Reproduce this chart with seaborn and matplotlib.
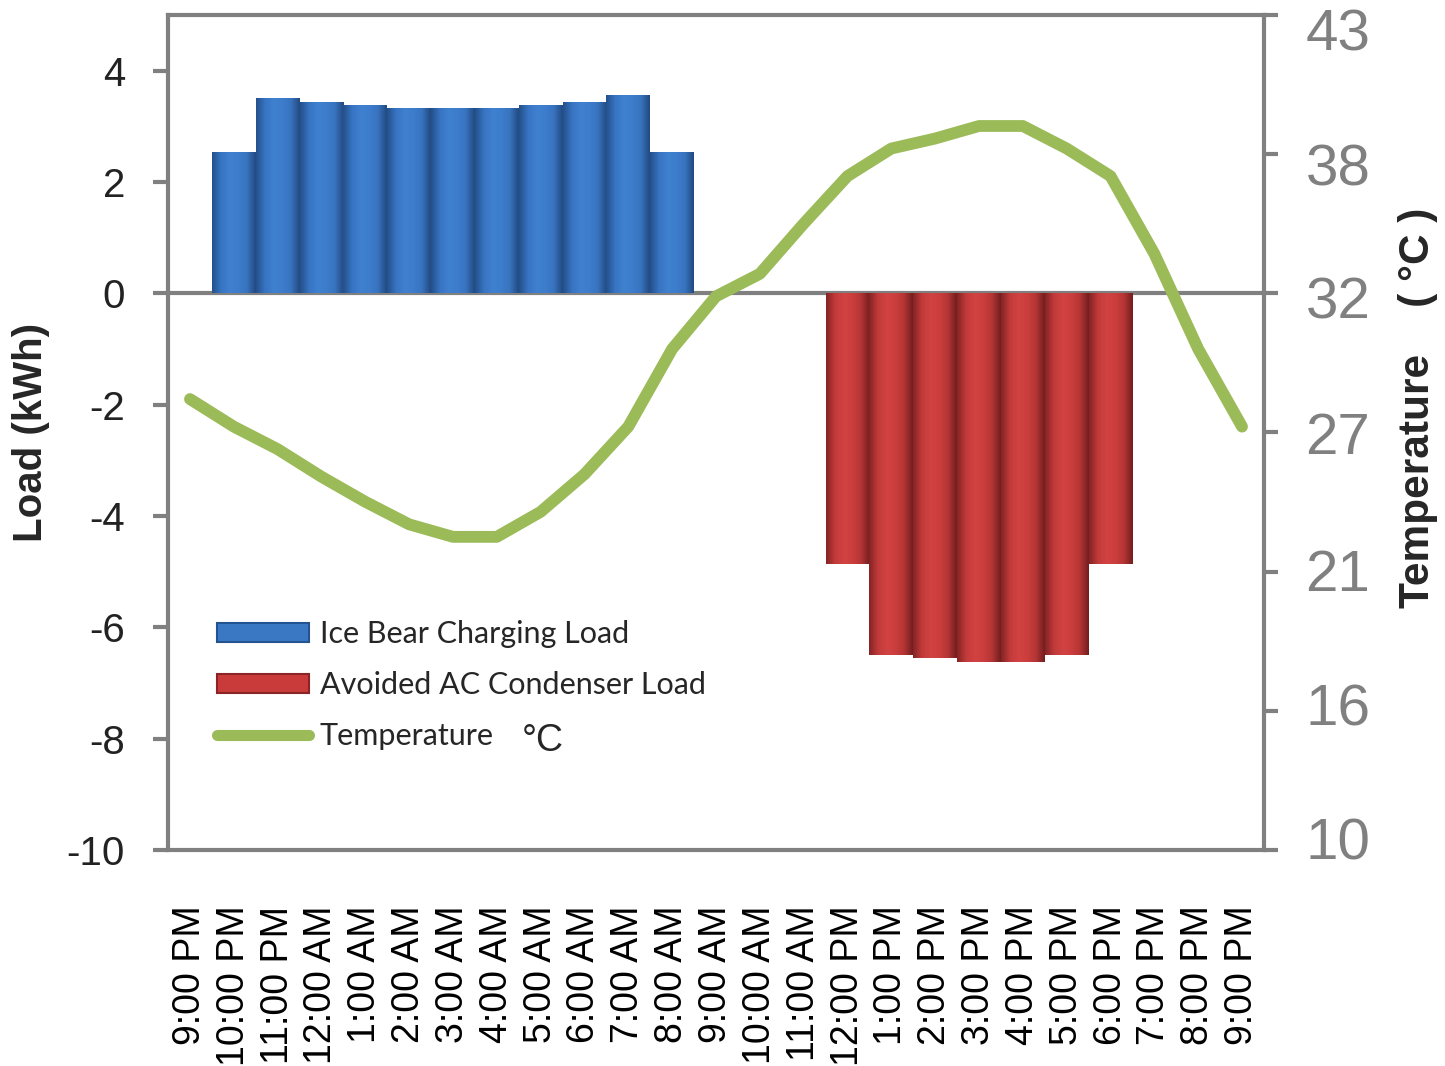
import numpy as np
import pandas as pd
import matplotlib
matplotlib.use("Agg")
import matplotlib.pyplot as plt
import matplotlib.transforms as mtransforms
from matplotlib.colors import LinearSegmentedColormap
import seaborn as sns
from matplotlib.patches import Patch
from matplotlib.lines import Line2D

# hourly categories (one day, 9 PM to 9 PM)
hours = ["9:00 PM", "10:00 PM", "11:00 PM", "12:00 AM", "1:00 AM", "2:00 AM",
         "3:00 AM", "4:00 AM", "5:00 AM", "6:00 AM", "7:00 AM", "8:00 AM",
         "9:00 AM", "10:00 AM", "11:00 AM", "12:00 PM", "1:00 PM", "2:00 PM",
         "3:00 PM", "4:00 PM", "5:00 PM", "6:00 PM", "7:00 PM", "8:00 PM", "9:00 PM"]

# Ice Bear charging: 10 PM .. 8 AM
charge_load = [2.54, 3.51, 3.44, 3.38, 3.33, 3.33, 3.33, 3.38, 3.44, 3.56, 2.54]

# avoided condenser load: 12 PM .. 6 PM
avoided_load = [-4.87, -6.49, -6.55, -6.62, -6.62, -6.49, -4.87]

# temperature (deg C)
temp_c = [28.0, 26.9, 26.0, 24.9, 23.9, 23.0, 22.5, 22.5, 23.5, 25.0, 26.9, 30.0,
          32.1, 33.0, 35.0, 36.9, 38.0, 38.4, 38.9, 38.9, 38.0, 36.9, 33.8, 30.0, 26.9]

load_ticks = [4, 2, 0, -2, -4, -6, -8, -10]
temp_ticks_f = [50, 60, 70, 80, 90, 100, 110]
temp_tick_labels = ["10", "16", "21", "27", "32", "38", "43"]

sns.set_style("white")
plt.rcParams["font.family"] = ["Liberation Sans", "DejaVu Sans"]

gray = "#808080"
blue = "#3b78c4"
red = "#c93b3b"
green = "#9bbb59"

pos = list(range(len(hours)))
bars_df = pd.DataFrame({
    "pos": pos[1:12] + pos[15:22],
    "load": charge_load + avoided_load,
    "series": ["Ice Bear Charging Load"] * len(charge_load)
              + ["Avoided AC Condenser Load"] * len(avoided_load),
})

fig = plt.figure(figsize=(14.45, 10.66), dpi=100)
ax = fig.add_axes([0.1163, 0.2026, 0.7584, 0.7834])

sns.barplot(data=bars_df, x="pos", y="load", hue="series", native_scale=True,
            width=1.0, dodge=False, legend=False, ax=ax,
            palette={"Ice Bear Charging Load": blue, "Avoided AC Condenser Load": red},
            saturation=1)

# glossy column look: horizontal shading clipped to each bar
blue_cmap = LinearSegmentedColormap.from_list(
    "b", ["#25508c", "#3774c2", "#3f80cf", "#3d7dcc", "#3874bf", "#234a82"])
red_cmap = LinearSegmentedColormap.from_list(
    "r", ["#862424", "#c23a3a", "#d24242", "#cc3e3e", "#b53535", "#741e1e"])
grad = np.linspace(0, 1, 64).reshape(1, -1)
for p, s in zip(list(ax.patches), bars_df["series"]):
    x0, w = p.get_x(), p.get_width()
    y0, h = p.get_y(), p.get_height()
    cmap = blue_cmap if s.startswith("Ice") else red_cmap
    im = ax.imshow(grad, cmap=cmap, aspect="auto", interpolation="bicubic",
                   extent=[x0, x0 + w, min(y0, y0 + h), max(y0, y0 + h)],
                   zorder=p.get_zorder() + 0.1)
    im.set_clip_path(p)
    p.set_edgecolor("none")

ax.axhline(0, color=gray, lw=3, zorder=1)
ax.set_xlim(-0.5, 24.5)
ax.set_ylim(-10, 5)
ax.set_yticks(load_ticks)
ax.set_yticklabels([str(v) for v in load_ticks], fontsize=29, color="#222222")
ax.set_xticks(pos)
ax.set_xticklabels(hours, rotation=90, fontsize=27, color="black")
ax.tick_params(axis="x", length=0, pad=40)
ax.tick_params(axis="y", length=11, width=3, color=gray, pad=20, left=True)
ax.set_xlabel("")
ax.set_ylabel("Load (kWh)", fontsize=29, fontweight="bold", labelpad=12)
for side in ["left", "top", "bottom"]:
    ax.spines[side].set_color(gray)
    ax.spines[side].set_linewidth(3)
ax.spines["right"].set_visible(False)

ax2 = ax.twinx()
sns.lineplot(x=pos, y=temp_c, ax=ax2, color=green, lw=8.5, solid_capstyle="round")
ax2.set_ylim(10, (110 - 32) * 5 / 9)
ax2.set_yticks([(f - 32) * 5 / 9 for f in temp_ticks_f])
ax2.set_yticklabels(temp_tick_labels, fontsize=42, color=gray,
                    family=["Liberation Sans Narrow", "Liberation Sans"])
ax2.tick_params(axis="y", length=10, width=3, color=gray, pad=20, right=True)
# the right-hand labels sit on a slightly tighter spacing than the ticks
label_shift_px = [12, 6, 2, -1, -4, -10, -15]
for lab, dy in zip(ax2.get_yticklabels(), label_shift_px):
    lab.set_transform(lab.get_transform()
                      + mtransforms.ScaledTranslation(0, dy / 100, fig.dpi_scale_trans))
ax2.set_ylabel("Temperature    ( °C )", fontsize=30.5, fontweight="bold")
ax2.yaxis.set_label_coords(1.122, 0.53)
for side in ["left", "top", "bottom"]:
    ax2.spines[side].set_visible(False)
ax2.spines["right"].set_color(gray)
ax2.spines["right"].set_linewidth(3)

handles = [Patch(facecolor=blue, edgecolor="#24548f", lw=1.5),
           Patch(facecolor=red, edgecolor="#8b2525", lw=1.5),
           Line2D([0], [0], color=green, lw=8, solid_capstyle="round")]
labels = ["Ice Bear Charging Load", "Avoided AC Condenser Load", "Temperature"]
ax.legend(handles, labels, loc="upper left", bbox_to_anchor=(0.02, 0.308),
          frameon=False, handlelength=3.0, handleheight=0.6, handletextpad=0.35,
          labelspacing=0.75, prop={"family": "Lato", "size": 22})
ax.text(0.323, 0.13, "°C", transform=ax.transAxes, fontsize=27,
        va="center", ha="left")

fig.savefig("out.png", dpi=100)
